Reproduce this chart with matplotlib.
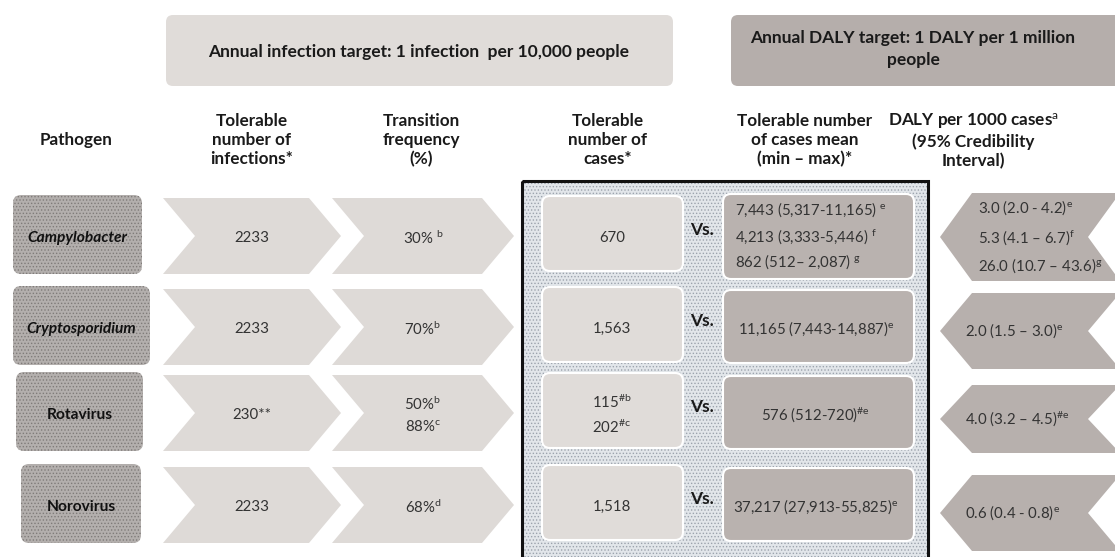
import matplotlib
matplotlib.use("Agg")
import matplotlib.pyplot as plt
from matplotlib.patches import FancyBboxPatch, Polygon, Rectangle

plt.rcParams['font.family'] = ['Lato', 'DejaVu Sans']
plt.rcParams['mathtext.fontset'] = 'custom'
plt.rcParams['mathtext.rm'] = 'Lato'
plt.rcParams['mathtext.it'] = 'Lato:italic'
plt.rcParams['mathtext.bf'] = 'Lato:bold'
plt.rcParams['hatch.linewidth'] = 0.6

# ---------------------------
# Table content
# ---------------------------
header_left = "Annual infection target: 1 infection  per 10,000 people"
header_right = "Annual DALY target: 1 DALY per 1 million\npeople"
col_titles = ["Pathogen",
              "Tolerable\nnumber of\ninfections*",
              "Transition\nfrequency\n(%)",
              "Tolerable\nnumber of\ncases*",
              "Tolerable number\nof cases mean\n(min \u2013 max)*",
              "DALY per 1000 cases$^{\\rm a}$\n(95% Credibility\nInterval)"]

pathogens = ["Campylobacter", "Cryptosporidium", "Rotavirus", "Norovirus"]
pathogen_italic = [True, True, False, False]
tolerable_infections = ["2233", "2233", "230**", "2233"]
transition_freq = ["30% $^{\\rm b}$", "70%$^{\\rm b}$",
                   "50%$^{\\rm b}$\n88%$^{\\rm c}$", "68%$^{\\rm d}$"]
tolerable_cases = ["670", "1,563", "115$^{\\#\\rm b}$\n202$^{\\#\\rm c}$", "1,518"]
daly_cases = ["7,443 (5,317-11,165) $^{\\rm e}$\n4,213 (3,333-5,446) $^{\\rm f}$\n862 (512\u2013 2,087) $^{\\rm g}$",
              "11,165 (7,443-14,887)$^{\\rm e}$",
              "576 (512-720)$^{\\#\\rm e}$",
              "37,217 (27,913-55,825)$^{\\rm e}$"]
daly_per_1000 = ["3.0 (2.0 - 4.2)$^{\\rm e}$\n5.3 (4.1 \u2013 6.7)$^{\\rm f}$\n26.0 (10.7 \u2013 43.6)$^{\\rm g}$",
                 "2.0 (1.5 \u2013 3.0)$^{\\rm e}$",
                 "4.0 (3.2 \u2013 4.5)$^{\\#\\rm e}$",
                 "0.6 (0.4 - 0.8)$^{\\rm e}$"]

# ---------------------------
# Layout (pixel units)
# ---------------------------
row_y = [236, 327, 413, 505]
path_x = [(13, 142), (13, 150), (16, 143), (21, 141)]
right_row_y = [237, 331, 419, 513]
right_half = [44, 38, 34, 38]

light = "#dedad7"
dark = "#b7b0ad"
txt = "#333333"

fig = plt.figure(figsize=(11.15, 5.57), dpi=100)
ax = fig.add_axes([0, 0, 1, 1])
ax.set_xlim(0, 1115)
ax.set_ylim(557, 0)
ax.axis('off')


def rbox(x0, y0, x1, y1, fc, ec='none', lw=0, r=7, hatch=None, hc=None, z=1):
    ax.add_patch(FancyBboxPatch((x0, y0), x1 - x0, y1 - y0,
                                boxstyle=f"round,pad=0,rounding_size={r}",
                                fc=fc, ec=ec, lw=lw, zorder=z))
    if hatch:
        ax.add_patch(FancyBboxPatch((x0, y0), x1 - x0, y1 - y0,
                                    boxstyle=f"round,pad=0,rounding_size={r}",
                                    fc='none', ec=hc, lw=0, hatch=hatch, zorder=z + 0.1))


def chevron(x0, x1, cy, h, fc, d=32, left=False):
    if not left:
        pts = [(x0, cy - h), (x1 - d, cy - h), (x1, cy), (x1 - d, cy + h),
               (x0, cy + h), (x0 + d, cy)]
    else:
        pts = [(x0, cy), (x0 + d, cy - h), (x1, cy - h), (x1 - d, cy),
               (x1, cy + h), (x0 + d, cy + h)]
    ax.add_patch(Polygon(pts, closed=True, fc=fc, ec='none', zorder=1))


# header boxes
rbox(166, 15, 673, 86, "#e0dcd9")
rbox(731, 15, 1135, 86, "#b5aeab")
ax.text(419, 52, header_left, ha='center', va='center', fontsize=12.5,
        fontweight='bold', color='#1a1a1a')
ax.text(913, 49, header_right, ha='center', va='center', fontsize=12.5,
        fontweight='bold', color='#1a1a1a', linespacing=1.45)

# column titles
title_x = [76, 252, 421, 608, 805, 973]
for x, t in zip(title_x, col_titles):
    ax.text(x, 140, t, ha='center', va='center', fontsize=12.3,
            fontweight='bold', color='#1a1a1a', linespacing=1.2)

# framed comparison block
ax.add_patch(Rectangle((522, 181), 406, 390, fc='#e2e6ea', ec='none', zorder=0.5))
ax.add_patch(Rectangle((522, 181), 406, 390, fc='none', ec='#9ca3ad', lw=0,
                       hatch='.....', zorder=0.6))
ax.add_patch(Rectangle((522, 181), 406, 390, fc='none', ec='#111111', lw=2.2, zorder=3))

for i, cy in enumerate(row_y):
    # pathogen box
    x0, x1 = path_x[i]
    rbox(x0, cy - 41, x1, cy + 38, "#b3afad", r=8, hatch='.....', hc='#7f7b79')
    ax.text((x0 + x1) / 2, cy + 2, pathogens[i], ha='center', va='center',
            fontsize=11.2, fontweight='bold', color='#111111',
            style='italic' if pathogen_italic[i] else 'normal')

    # arrows for infections and transition
    chevron(163, 341, cy, 38, light)
    chevron(332, 514, cy, 38, light)
    ax.text(252, cy + 2, tolerable_infections[i], ha='center', va='center',
            fontsize=10.8, color=txt)
    ax.text(423, cy + 2, transition_freq[i], ha='center', va='center',
            fontsize=10.8, color=txt, linespacing=1.55)

    # cases boxes
    rbox(542, cy - 40, 683, cy + 35, "#e0dcd9", ec='white', lw=1.5, r=8, z=2)
    ax.text(612, cy + 2, tolerable_cases[i], ha='center', va='center',
            fontsize=10.8, color=txt, linespacing=1.55, zorder=4)
    ax.text(702, cy - 6, "Vs.", ha='center', va='center', fontsize=12.5,
            fontweight='bold', color='#1a1a1a', zorder=4)

    top, bot = (cy - 42, cy + 43) if i == 0 else (cy - 37, cy + 36)
    rbox(723, top, 914, bot, "#b9b2af", ec='white', lw=1.5, r=8, z=2)
    if i == 0:
        ax.text(735, cy, daly_cases[i], ha='left', va='center', fontsize=10.8,
                color=txt, linespacing=1.5, zorder=4)
    else:
        ax.text(816, cy + 2, daly_cases[i], ha='center', va='center',
                fontsize=10.8, color=txt, zorder=4)

    # DALY per 1000 cases arrows
    ry = right_row_y[i]
    chevron(940, 1120, ry, right_half[i], dark, d=32, left=True)
    ax.text(978 if i == 0 else 965, ry, daly_per_1000[i], ha='left', va='center',
            fontsize=10.8, color=txt, linespacing=1.7)

fig.savefig("out.png", dpi=100, facecolor='white')
